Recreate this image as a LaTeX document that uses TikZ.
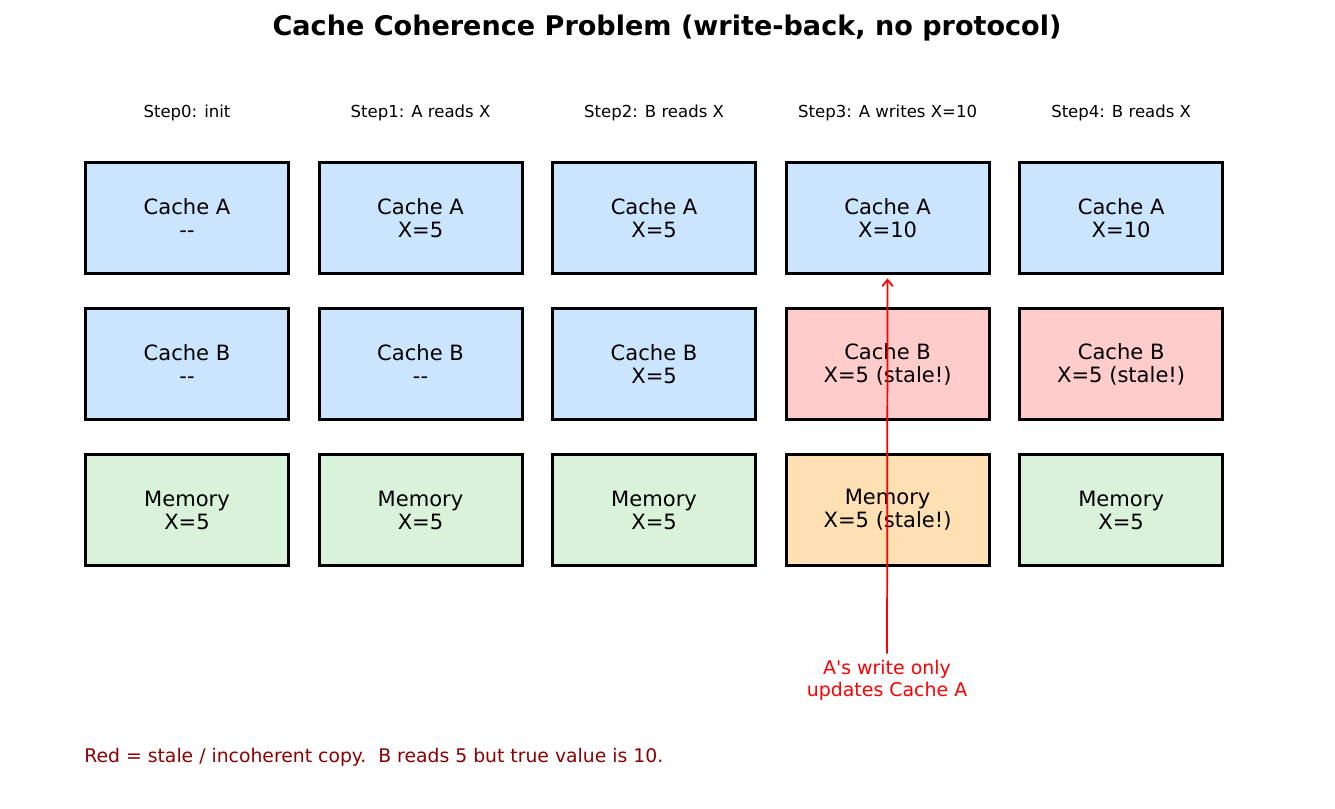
\documentclass[tikz,border=0pt]{standalone}
\usepackage{fontspec}
\setmainfont{DejaVu Sans}
\usepackage{tikz}
\usetikzlibrary{arrows, arrows.meta, positioning}

\definecolor{cacheblue}{HTML}{CCE5FF}
\definecolor{stalered}{HTML}{FFCCCC}
\definecolor{memgreen}{HTML}{D9F2D9}
\definecolor{memorange}{HTML}{FFE0B3}
\definecolor{notered}{HTML}{FF0000}
\definecolor{footred}{HTML}{8B0000}

\tikzset{
	cell/.style={draw=black, line width=2.3pt, minimum width=152.25pt, minimum height=83.25pt,
		align=center, font=\fontsize{15.8}{17.2}\selectfont},
	steplabel/.style={font=\fontsize{12.4}{14}\selectfont},
}

\begin{document}
\begin{tikzpicture}[x=0.75pt, y=-0.75pt, ->, >={Straight Barb[length=5pt, width=8pt]}, semithick]

				\useasboundingbox (0,0) rectangle (1335,809);

				\node [font=\fontsize{20.3}{24}\selectfont\bfseries] (title) at (667,28.5) {Cache Coherence Problem (write-back, no protocol)};

				% cache A row
				\node [cell, fill=cacheblue]	(a0)	at (187,218)		{Cache A\\{-}{-}};
				\node [cell, fill=cacheblue]	(a1)	[right = 20.6pt of a0]	{Cache A\\X=5};
				\node [cell, fill=cacheblue]	(a2)	[right = 20.6pt of a1]	{Cache A\\X=5};
				\node [cell, fill=cacheblue]	(a3)	[right = 20.6pt of a2]	{Cache A\\X=10};
				\node [cell, fill=cacheblue]	(a4)	[right = 20.6pt of a3]	{Cache A\\X=10};

				% cache B row
				\node [cell, fill=cacheblue]	(b0)	[below = 24pt of a0]	{Cache B\\{-}{-}};
				\node [cell, fill=cacheblue]	(b1)	[below = 24pt of a1]	{Cache B\\{-}{-}};
				\node [cell, fill=cacheblue]	(b2)	[below = 24pt of a2]	{Cache B\\X=5};
				\node [cell, fill=stalered]	(b3)	[below = 24pt of a3]	{Cache B\\X=5 (stale!)};
				\node [cell, fill=stalered]	(b4)	[below = 24pt of a4]	{Cache B\\X=5 (stale!)};

				% memory row
				\node [cell, fill=memgreen]	(m0)	[below = 24pt of b0]	{Memory\\X=5};
				\node [cell, fill=memgreen]	(m1)	[below = 24pt of b1]	{Memory\\X=5};
				\node [cell, fill=memgreen]	(m2)	[below = 24pt of b2]	{Memory\\X=5};
				\node [cell, fill=memorange]	(m3)	[below = 24pt of b3]	{Memory\\X=5 (stale!)};
				\node [cell, fill=memgreen]	(m4)	[below = 24pt of b4]	{Memory\\X=5};

				% step labels
				\node [steplabel]	(s0)	[above = 26.5pt of a0]	{Step0: init};
				\node [steplabel]	(s1)	[above = 26.5pt of a1]	{Step1: A reads X};
				\node [steplabel]	(s2)	[above = 26.5pt of a2]	{Step2: B reads X};
				\node [steplabel]	(s3)	[above = 26.5pt of a3]	{Step3: A writes X=10};
				\node [steplabel]	(s4)	[above = 26.5pt of a4]	{Step4: B reads X};

				\node [text=notered, align=center, font=\fontsize{14.2}{16.5}\selectfont] (note) at (887,680) {A\textquotesingle s write only\\updates Cache A};

				\node [text=footred, anchor=west, font=\fontsize{14.1}{16}\selectfont, inner sep=0pt] (foot) at (84,757) {Red = stale / incoherent copy.\ \ B reads 5 but true value is 10.};

				\path	(note)	edge [notered, line width=1.3pt, shorten >=2.5pt, shorten <=1pt]	(a3);

\end{tikzpicture}
\end{document}
